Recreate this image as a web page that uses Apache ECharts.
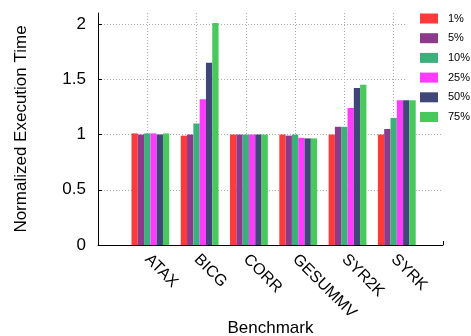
<!DOCTYPE html>
<html>
<head>
<meta charset="utf-8">
<script src="https://cdn.jsdelivr.net/npm/echarts@6/dist/echarts.min.js"></script>
<style>html,body{margin:0;padding:0;background:#fff}#c{width:471px;height:336px}</style>
</head>
<body>
<div id="c"></div>
<script>
var categories = ['ATAX', 'BICG', 'CORR', 'GESUMMV', 'SYR2K', 'SYRK'];
var seriesNames = ['1%', '5%', '10%', '25%', '50%', '75%'];
var s1 = [1.01, 0.99, 1.00, 1.00, 1.00, 1.00];
var s5 = [1.00, 1.00, 1.00, 0.99, 1.07, 1.05];
var s10 = [1.01, 1.10, 1.00, 1.00, 1.07, 1.15];
var s25 = [1.01, 1.32, 1.00, 0.97, 1.24, 1.31];
var s50 = [1.00, 1.65, 1.00, 0.965, 1.42, 1.31];
var s75 = [1.01, 2.01, 1.00, 0.965, 1.45, 1.31];
var yTicks = [0, 0.5, 1, 1.5, 2];
var colors = ['#fe3a3a', '#8c3a8c', '#3bb07a', '#ff3bff', '#3e4778', '#48c85d'];

var allSeries = [s1, s5, s10, s25, s50, s75];
var groupShift = 0.0625;
var font = 'Liberation Sans, Arial, Helvetica, sans-serif';

var chart = echarts.init(document.getElementById('c'), null, {renderer: 'canvas'});
chart.setOption({
  animation: false,
  backgroundColor: '#fff',
  color: colors,
  textStyle: {fontFamily: font},
  grid: {left: 98, right: 28, top: 13, bottom: 91, containLabel: false, outerBoundsMode: 'none'},
  legend: {
    orient: 'vertical',
    left: 406,
    top: 5,
    padding: [8, 6, 5, 14],
    backgroundColor: '#fff',
    itemWidth: 18,
    itemHeight: 10,
    itemGap: 8.7,
    icon: 'rect',
    z: 1,
    textStyle: {fontSize: 11, lineHeight: 10, color: '#000', fontFamily: font, padding: [0, 0, 0, 5]},
    data: seriesNames
  },
  xAxis: {
    type: 'value',
    min: 0,
    max: 7,
    interval: 1,
    name: 'Benchmark',
    nameLocation: 'middle',
    nameGap: 75,
    nameMoveOverlap: false,
    nameTextStyle: {fontSize: 17, color: '#000', fontFamily: font},
    axisLine: {show: true, lineStyle: {color: '#000', width: 1}},
    axisTick: {show: true, inside: true, length: 4, lineStyle: {color: '#000'}},
    axisLabel: {
      show: true,
      rotate: -45,
      fontSize: 16,
      color: '#000',
      margin: 12,
      fontFamily: font,
      formatter: function (v) {
        var i = Math.round(v) - 1;
        return (i >= 0 && i < categories.length) ? categories[i] : '';
      }
    },
    splitLine: {show: true, showMinLine: false, showMaxLine: false, lineStyle: {color: '#aaa', type: [1, 2], width: 1}}
  },
  yAxis: {
    type: 'value',
    min: 0,
    max: 2.1,
    interval: 0.5,
    name: 'Normalized Execution Time',
    nameLocation: 'middle',
    nameGap: 68,
    nameMoveOverlap: false,
    nameTextStyle: {fontSize: 17, color: '#000', fontFamily: font},
    axisLine: {show: true, lineStyle: {color: '#000', width: 1}},
    axisTick: {show: true, inside: true, length: 4, lineStyle: {color: '#000'},
      customValues: yTicks},
    axisLabel: {fontSize: 17, color: '#000', margin: 12, fontFamily: font,
      customValues: yTicks,
      formatter: function (v) { return String(v); }},
    splitLine: {show: true, showMinLine: false, showMaxLine: true, lineStyle: {color: '#aaa', type: [1, 2], width: 1}}
  },
  series: allSeries.map(function (vals, si) {
    return {
      name: seriesNames[si],
      type: 'bar',
      barWidth: 6.3,
      barGap: '0%',
      z: 3,
      itemStyle: {color: colors[si]},
      data: vals.map(function (v, j) { return [j + 1 + groupShift, v]; })
    };
  })
});
</script>
</body>
</html>
